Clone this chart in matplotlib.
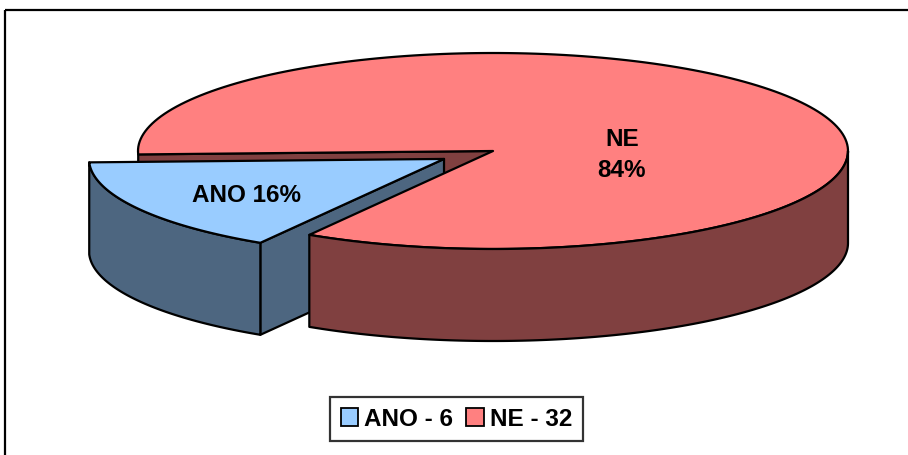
import numpy as np
import matplotlib
matplotlib.use('Agg')
import matplotlib.pyplot as plt
from matplotlib.patches import Polygon, Patch, Rectangle

plt.rcParams['font.family'] = ['Liberation Sans', 'DejaVu Sans']

# data
labels = ['ANO', 'NE']
counts = [6, 32]
top_colors = ['#99CCFF', '#FF8080']
side_colors = ['#4D6680', '#804040']

# 3d pie geometry (pixel space)
cx, cy = 493, 151
rx, ry = 355, 98
depth = 92
start = 182.0
explode = [0.16, 0.0]

def rim(c, t):
    t = np.radians(t)
    return np.column_stack([c[0] + rx * np.cos(t), c[1] - ry * np.sin(t)])

def top_face(c, t0, t1):
    arc = rim(c, np.linspace(t0, t1, 200))
    return np.vstack([[c], arc])

def wall(c, t0, t1):
    arc = rim(c, np.linspace(t0, t1, 200))
    low = arc + [0, depth]
    return np.vstack([arc, low[::-1]])

def radial(c, t):
    p = rim(c, [t])[0]
    return np.array([c, p, p + [0, depth], [c[0], c[1] + depth]])

fig = plt.figure(figsize=(9.08, 4.55), dpi=100)
ax = fig.add_axes([0, 0, 1, 1])
ax.set_xlim(0, 908)
ax.set_ylim(455, 0)
ax.axis('off')

total = float(sum(counts))
spans = [360.0 * v / total for v in counts]
t_ano0 = start
t_ano1 = start + spans[0]
t_ne0 = t_ano1
t_ne1 = t_ne0 + spans[1]

mid = np.radians((t_ano0 + t_ano1) / 2)
c_ano = (cx + explode[0] * rx * np.cos(mid), cy - explode[0] * ry * np.sin(mid))
c_ne = (cx, cy)

kw = dict(edgecolor='black', linewidth=1.6, joinstyle='round')

# back pieces first
ax.add_patch(Polygon(radial(c_ne, t_ne1), closed=True, facecolor=side_colors[1], **kw))
ax.add_patch(Polygon(radial(c_ano, t_ano1), closed=True, facecolor=side_colors[0], **kw))
# NE slice
ax.add_patch(Polygon(top_face(c_ne, t_ne0, t_ne1), closed=True, facecolor=top_colors[1], **kw))
ax.add_patch(Polygon(wall(c_ne, t_ne0, 360.0), closed=True, facecolor=side_colors[1], **kw))
# ANO slice
ax.add_patch(Polygon(wall(c_ano, t_ano0, t_ano1), closed=True, facecolor=side_colors[0], **kw))
ax.add_patch(Polygon(top_face(c_ano, t_ano0, t_ano1), closed=True, facecolor=top_colors[0], **kw))

pct = [round(100 * v / total) for v in counts]
ax.text(246, 196, '%s %d%%' % (labels[0], pct[0]), ha='center', va='center',
        fontsize=17.5, fontweight='bold')
ax.text(622, 155, '%s\n%d%%' % (labels[1], pct[1]), ha='center', va='center',
        fontsize=17.5, fontweight='bold', linespacing=1.45)

# chart area border
ax.add_patch(Rectangle((5, 10), 1000, 600, fill=False, edgecolor='black', linewidth=1.6))

handles = [Patch(facecolor=top_colors[i], edgecolor='black', linewidth=1.3) for i in range(2)]
leg_labels = ['%s - %d' % (labels[i], counts[i]) for i in range(2)]
leg = ax.legend(handles, leg_labels, loc='center', bbox_to_anchor=(456.5, 419),
                bbox_transform=ax.transData, ncol=2, frameon=True, fancybox=False,
                prop={'weight': 'bold', 'size': 17.5}, handlelength=0.72, handleheight=0.72,
                handletextpad=0.25, columnspacing=0.55, borderpad=0.42, borderaxespad=0)
leg.get_frame().set_edgecolor('black')
leg.get_frame().set_linewidth(1.6)

fig.savefig('out.png', dpi=100)
